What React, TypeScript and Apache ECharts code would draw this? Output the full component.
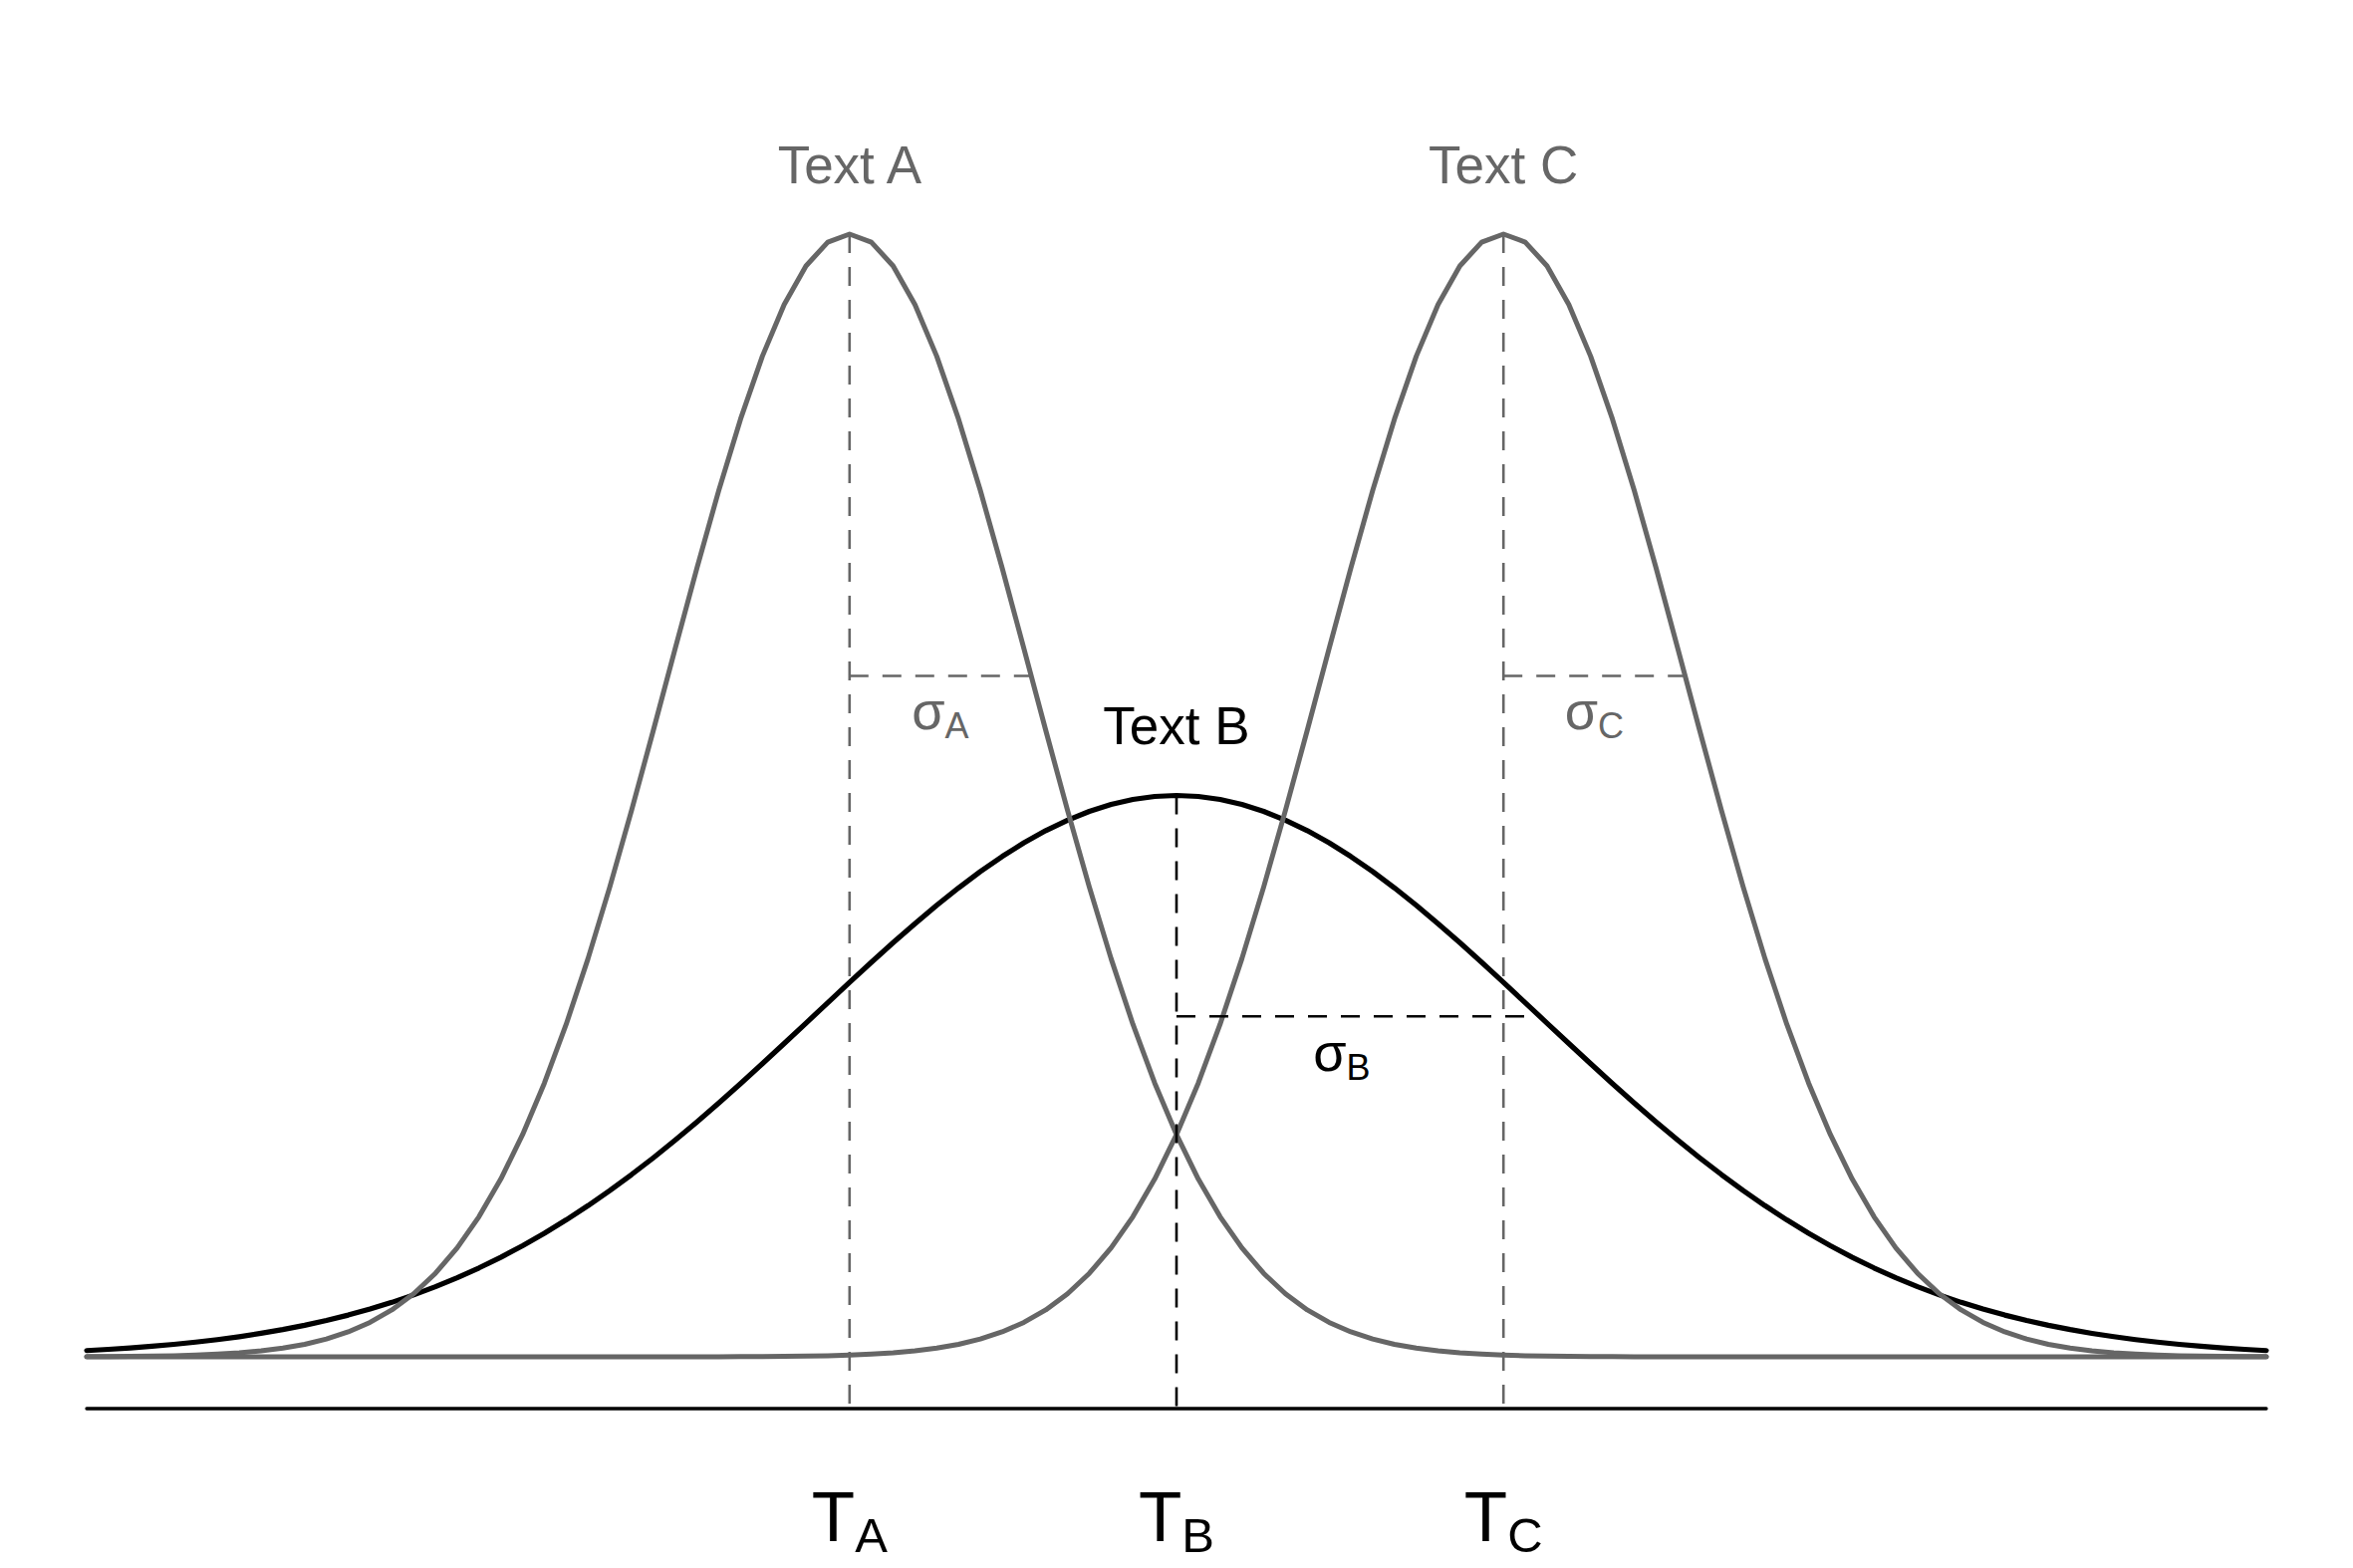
import React, { useEffect, useRef } from "react";
import * as echarts from "echarts";

// sample grid (x) shared by the three curves
const X = [
  -6, -5.88, -5.76, -5.64, -5.52, -5.4, -5.28, -5.16, -5.04, -4.92,
  -4.8, -4.68, -4.56, -4.44, -4.32, -4.2, -4.08, -3.96, -3.84, -3.72,
  -3.6, -3.48, -3.36, -3.24, -3.12, -3, -2.88, -2.76, -2.64, -2.52,
  -2.4, -2.28, -2.16, -2.04, -1.92, -1.8, -1.68, -1.56, -1.44, -1.32,
  -1.2, -1.08, -0.96, -0.84, -0.72, -0.6, -0.48, -0.36, -0.24, -0.12,
  0, 0.12, 0.24, 0.36, 0.48, 0.6, 0.72, 0.84, 0.96, 1.08,
  1.2, 1.32, 1.44, 1.56, 1.68, 1.8, 1.92, 2.04, 2.16, 2.28,
  2.4, 2.52, 2.64, 2.76, 2.88, 3, 3.12, 3.24, 3.36, 3.48,
  3.6, 3.72, 3.84, 3.96, 4.08, 4.2, 4.32, 4.44, 4.56, 4.68,
  4.8, 4.92, 5.04, 5.16, 5.28, 5.4, 5.52, 5.64, 5.76, 5.88, 6,
];

// curve A (narrow, left)
const CURVE_A = [
  0.00006, 0.0001, 0.00016, 0.00025, 0.00039, 0.00061, 0.00094, 0.00141, 0.0021, 0.00307,
  0.00443, 0.00631, 0.00885, 0.01223, 0.01667, 0.02239, 0.02965, 0.03871, 0.0498, 0.06316,
  0.07895, 0.09728, 0.11816, 0.14146, 0.16694, 0.19419, 0.22265, 0.25164, 0.28034, 0.30785,
  0.33322, 0.35553, 0.37391, 0.38762, 0.39608, 0.39894, 0.39608, 0.38762, 0.37391, 0.35553,
  0.33322, 0.30785, 0.28034, 0.25164, 0.22265, 0.19419, 0.16694, 0.14146, 0.11816, 0.09728,
  0.07895, 0.06316, 0.0498, 0.03871, 0.02965, 0.02239, 0.01667, 0.01223, 0.00885, 0.00631,
  0.00443, 0.00307, 0.0021, 0.00141, 0.00094, 0.00061, 0.00039, 0.00025, 0.00016, 0.0001,
  0.00006, 0.00004, 0.00002, 0.00001, 0, 0, 0, 0, 0, 0,
  0, 0, 0, 0, 0, 0, 0, 0, 0, 0,
  0, 0, 0, 0, 0, 0, 0, 0, 0, 0, 0,
];

// curve B (wide, centre)
const CURVE_B = [
  0.00222, 0.00265, 0.00315, 0.00374, 0.00442, 0.00521, 0.00612, 0.00715, 0.00834, 0.00968,
  0.0112, 0.01291, 0.01483, 0.01697, 0.01935, 0.02199, 0.0249, 0.02809, 0.03158, 0.03537,
  0.03947, 0.0439, 0.04864, 0.0537, 0.05908, 0.06476, 0.07073, 0.07697, 0.08347, 0.09019,
  0.09709, 0.10415, 0.11133, 0.11857, 0.12582, 0.13304, 0.14017, 0.14715, 0.15392, 0.16043,
  0.16661, 0.17241, 0.17777, 0.18263, 0.18696, 0.19069, 0.19381, 0.19627, 0.19804, 0.19911,
  0.19947,
  0.19911, 0.19804, 0.19627, 0.19381, 0.19069, 0.18696, 0.18263, 0.17777, 0.17241, 0.16661,
  0.16043, 0.15392, 0.14715, 0.14017, 0.13304, 0.12582, 0.11857, 0.11133, 0.10415, 0.09709,
  0.09019, 0.08347, 0.07697, 0.07073, 0.06476, 0.05908, 0.0537, 0.04864, 0.0439, 0.03947,
  0.03537, 0.03158, 0.02809, 0.0249, 0.02199, 0.01935, 0.01697, 0.01483, 0.01291, 0.0112,
  0.00968, 0.00834, 0.00715, 0.00612, 0.00521, 0.00442, 0.00374, 0.00315, 0.00265, 0.00222,
];

// curve C (narrow, right)
const CURVE_C = [
  0, 0, 0, 0, 0, 0, 0, 0, 0, 0,
  0, 0, 0, 0, 0, 0, 0, 0, 0, 0,
  0, 0, 0, 0, 0, 0, 0, 0.00001, 0.00002, 0.00004,
  0.00006, 0.0001, 0.00016, 0.00025, 0.00039, 0.00061, 0.00094, 0.00141, 0.0021, 0.00307,
  0.00443, 0.00631, 0.00885, 0.01223, 0.01667, 0.02239, 0.02965, 0.03871, 0.0498, 0.06316,
  0.07895, 0.09728, 0.11816, 0.14146, 0.16694, 0.19419, 0.22265, 0.25164, 0.28034, 0.30785,
  0.33322, 0.35553, 0.37391, 0.38762, 0.39608, 0.39894, 0.39608, 0.38762, 0.37391, 0.35553,
  0.33322, 0.30785, 0.28034, 0.25164, 0.22265, 0.19419, 0.16694, 0.14146, 0.11816, 0.09728,
  0.07895, 0.06316, 0.0498, 0.03871, 0.02965, 0.02239, 0.01667, 0.01223, 0.00885, 0.00631,
  0.00443, 0.00307, 0.0021, 0.00141, 0.00094, 0.00061, 0.00039, 0.00025, 0.00016, 0.0001, 0.00006,
];

// reference markers per curve (A, B, C)
const NAMES = ["A", "B", "C"];
const MEANS = [-1.8, 0, 1.8];
const PEAKS = [0.39894, 0.19947, 0.39894];
const SIGMA_LEVEL = [0.24197, 0.12098, 0.24197];
const SIGMA_END = [-0.8, 2, 2.8];
const TITLES = ["Text A", "Text B", "Text C"];
const AXIS_LEVEL = -0.0184;
const X_MIN = -6;
const X_MAX = 6;

const GREY = "#666666";
const BLACK = "#000000";
const FONT = "'Liberation Sans', Arial, Helvetica, sans-serif";
const DASH = [19, 14];

export default function App() {
  const ref = useRef<HTMLDivElement>(null);

  useEffect(() => {
    if (!ref.current) return;
    const chart = echarts.init(ref.current, null, { renderer: "svg" });
    const colors = [GREY, BLACK, GREY];
    const curves = [CURVE_A, CURVE_B, CURVE_C];

    const series: any[] = [];

    // x axis baseline
    series.push({
      type: "line",
      data: [
        [X_MIN, AXIS_LEVEL],
        [X_MAX, AXIS_LEVEL],
      ],
      symbol: "none",
      silent: true,
      clip: false,
      lineStyle: { color: BLACK, width: 3.3, cap: "round" },
      z: 2,
    });

    // curves: B first, then A and C
    [1, 0, 2].forEach((k) => {
      series.push({
        type: "line",
        name: NAMES[k],
        data: X.map((x, i) => [x, curves[k][i]]),
        symbol: "none",
        clip: false,
        silent: true,
        lineStyle: { color: colors[k], width: k === 1 ? 5.2 : 5, cap: "round", join: "round" },
        z: 3,
      });
    });

    // dashed reference lines
    MEANS.forEach((m, k) => {
      series.push({
        type: "line",
        data: [
          [m, PEAKS[k]],
          [m, AXIS_LEVEL],
        ],
        symbol: "none",
        clip: false,
        silent: true,
        lineStyle: { color: colors[k], width: 2.6, type: DASH },
        z: 4,
      });
      series.push({
        type: "line",
        data: [
          [m, SIGMA_LEVEL[k]],
          [SIGMA_END[k], SIGMA_LEVEL[k]],
        ],
        symbol: "none",
        clip: false,
        silent: true,
        lineStyle: { color: colors[k], width: 2.6, type: DASH },
        z: 4,
      });
    });

    const textItems: any[] = [];
    // titles above peaks
    const titleLevels = [0.4234, 0.2243, 0.4234];
    MEANS.forEach((m, k) => {
      textItems.push({
        value: [m, titleLevels[k]],
        label: {
          show: true,
          position: "inside",
          formatter: TITLES[k],
          color: colors[k],
          opacity: 1,
          fontSize: 53,
          fontFamily: FONT,
        },
      });
    });
    // sigma labels
    const sigmaX = [-1.3, 0.91, 2.3];
    const sigmaLevels = [0.2297, 0.1082, 0.2297];
    MEANS.forEach((m, k) => {
      textItems.push({
        value: [sigmaX[k], sigmaLevels[k]],
        label: {
          show: true,
          position: "inside",
          opacity: 1,
          formatter: `{m|σ}{s|${NAMES[k]}}`,
          rich: {
            m: { fontSize: 54, height: 60, lineHeight: 60, verticalAlign: "bottom", color: colors[k], fontFamily: FONT },
            s: { fontSize: 36, height: 30, lineHeight: 30, verticalAlign: "bottom", color: colors[k], fontFamily: FONT },
          },
        },
      });
    });
    // T labels on axis
    MEANS.forEach((m, k) => {
      textItems.push({
        value: [m, -0.0568],
        label: {
          show: true,
          position: "inside",
          opacity: 1,
          formatter: `{m|T}{s|${NAMES[k]}}`,
          rich: {
            m: { fontSize: 71, height: 80, lineHeight: 80, verticalAlign: "bottom", color: BLACK, fontFamily: FONT },
            s: { fontSize: 49, height: 43, lineHeight: 43, verticalAlign: "bottom", color: BLACK, fontFamily: FONT },
          },
        },
      });
    });

    series.push({
      type: "scatter",
      data: textItems,
      symbolSize: 1,
      itemStyle: { color: "rgba(0,0,0,0)", opacity: 1 },
      clip: false,
      silent: true,
      z: 5,
    });

    chart.setOption({
      animation: false,
      backgroundColor: "#ffffff",
      grid: { left: 87, right: 87, top: 119, bottom: 99 },
      xAxis: { type: "value", min: X_MIN, max: X_MAX, show: false },
      yAxis: { type: "value", min: -0.04, max: 0.44, show: false },
      series,
    });

    return () => chart.dispose();
  }, []);

  return (
    <div
      ref={ref}
      style={{ position: "absolute", left: 0, top: 0, width: 2362, height: 1574, background: "#fff" }}
    />
  );
}
